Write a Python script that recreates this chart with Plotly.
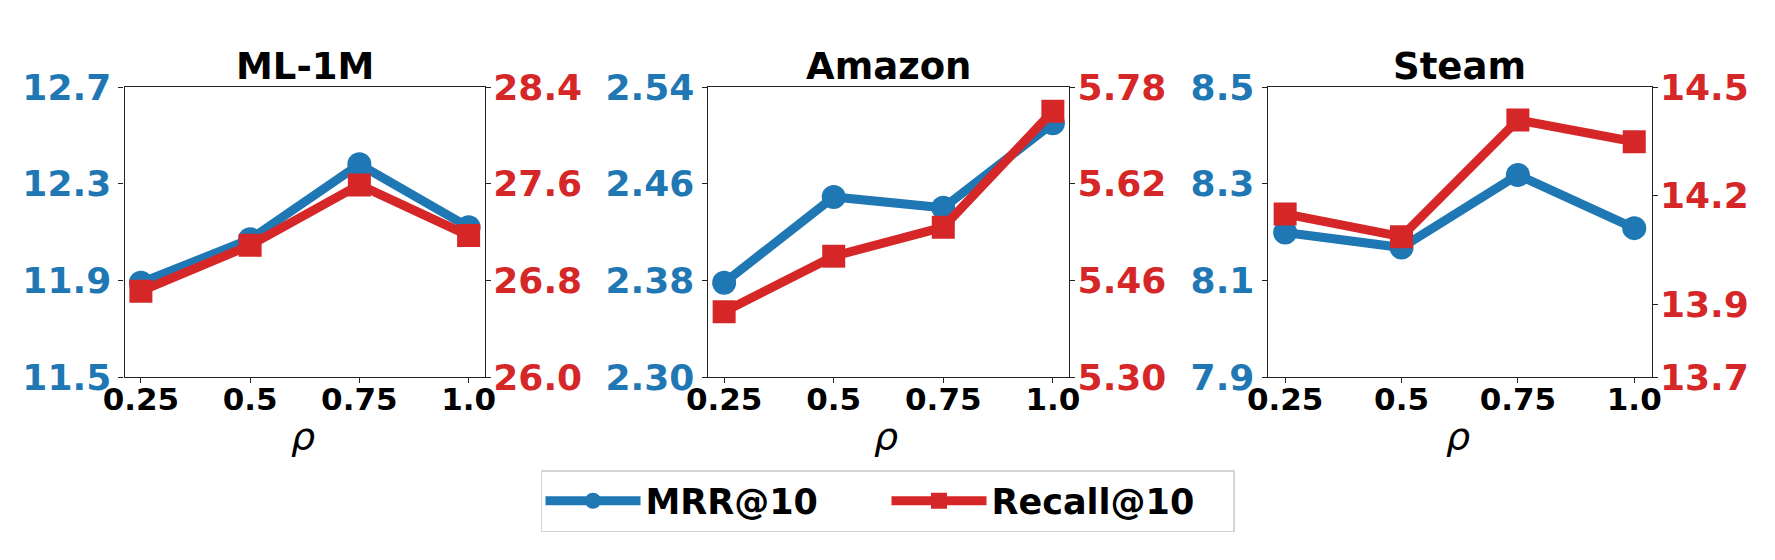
import plotly.graph_objects as go

W, H = 1775, 560

rho = [0.25, 0.5, 0.75, 1.0]
rho_labels = ["0.25", "0.5", "0.75", "1.0"]

datasets = ["ML-1M", "Amazon", "Steam"]

mrr_ml1m = [11.89, 12.07, 12.38, 12.12]
recall_ml1m = [26.71, 27.09, 27.59, 27.17]

mrr_amazon = [2.378, 2.449, 2.440, 2.510]
recall_amazon = [5.408, 5.500, 5.548, 5.740]

mrr_steam = [8.199, 8.168, 8.318, 8.208]
recall_steam = [14.150, 14.087, 14.409, 14.349]

mrr_ticks_ml1m = [11.5, 11.9, 12.3, 12.7]
mrr_ticktext_ml1m = ["11.5", "11.9", "12.3", "12.7"]
recall_ticks_ml1m = [26.0, 26.8, 27.6, 28.4]
recall_ticktext_ml1m = ["26.0", "26.8", "27.6", "28.4"]

mrr_ticks_amazon = [2.30, 2.38, 2.46, 2.54]
mrr_ticktext_amazon = ["2.30", "2.38", "2.46", "2.54"]
recall_ticks_amazon = [5.30, 5.46, 5.62, 5.78]
recall_ticktext_amazon = ["5.30", "5.46", "5.62", "5.78"]

mrr_ticks_steam = [7.9, 8.1, 8.3, 8.5]
mrr_ticktext_steam = ["7.9", "8.1", "8.3", "8.5"]
recall_ticks_steam = [13.7, 13.9, 14.2, 14.5]
recall_ticktext_steam = ["13.7", "13.9", "14.2", "14.5"]

BLUE = "#1f77b4"
RED = "#d62728"
FONT = "DejaVu Sans"

panels = [
    (mrr_ml1m, recall_ml1m, mrr_ticks_ml1m, mrr_ticktext_ml1m, recall_ticks_ml1m, recall_ticktext_ml1m),
    (mrr_amazon, recall_amazon, mrr_ticks_amazon, mrr_ticktext_amazon, recall_ticks_amazon, recall_ticktext_amazon),
    (mrr_steam, recall_steam, mrr_ticks_steam, mrr_ticktext_steam, recall_ticks_steam, recall_ticktext_steam),
]

# pixel layout of the axes boxes
x_px = [(124.5, 485.0), (707.7, 1069.3), (1267.7, 1651.7)]
y_top, y_bot = 87.0, 377.0

fig = go.Figure()
layout = dict(
    width=W, height=H,
    margin=dict(l=0, r=0, t=0, b=0, pad=0, autoexpand=False),
    paper_bgcolor="white", plot_bgcolor="white",
    font=dict(family=FONT, color="black"),
    showlegend=True,
    legend=dict(
        orientation="h", x=0.5, xanchor="center",
        y=1 - 470 / H, yanchor="top",
        font=dict(family=FONT, size=35, weight="bold", color="black"),
        bordercolor="#d4d4d4", borderwidth=1.5, bgcolor="white",
        itemsizing="trace", itemwidth=95,
        entrywidth=236, entrywidthmode="pixels",
    ),
    annotations=[],
)

xr = [rho[0] - 0.05 * (rho[-1] - rho[0]), rho[-1] + 0.05 * (rho[-1] - rho[0])]
ydom = [1 - y_bot / H, 1 - y_top / H]

for i, (mrr, rec, lt, ltt, rt, rtt) in enumerate(panels):
    xn = "" if i == 0 else str(i + 1)
    yl = str(2 * i + 1) if i > 0 else ""
    yr = str(2 * i + 2)
    xa = "x" + xn
    ya_l = "y" + yl
    ya_r = "y" + yr
    fig.add_trace(go.Scatter(
        x=rho, y=mrr, xaxis=xa, yaxis=ya_l, mode="lines+markers",
        name="MRR@10", legendgroup="mrr", showlegend=(i == 0),
        line=dict(color=BLUE, width=9),
        marker=dict(symbol="circle", size=24, color=BLUE),
    ))
    fig.add_trace(go.Scatter(
        x=rho, y=rec, xaxis=xa, yaxis=ya_r, mode="lines+markers",
        name="Recall@10", legendgroup="rec", showlegend=(i == 0),
        line=dict(color=RED, width=9),
        marker=dict(symbol="square", size=23, color=RED),
    ))
    x0, x1 = x_px[i]
    dom = [x0 / W, x1 / W]
    common = dict(
        showgrid=False, zeroline=False, automargin=False,
        showline=True, linecolor="#222", linewidth=1.2,
        ticks="outside", ticklen=5, tickcolor="#222", tickwidth=1.2,
    )
    layout["xaxis" + xn] = dict(
        domain=dom, range=xr, anchor=ya_l,
        tickvals=rho, ticktext=rho_labels, mirror=True,
        ticklabelstandoff=-10,
        tickfont=dict(family=FONT, size=31, weight="bold", color="black"),
        **common,
    )
    layout["yaxis" + yl] = dict(
        domain=ydom, range=[lt[0], lt[-1]], anchor=xa, side="left",
        tickvals=lt, ticktext=ltt,
        tickfont=dict(family=FONT, size=36, weight="bold", color=BLUE),
        **common,
    )
    layout["yaxis" + yr] = dict(
        range=[rt[0], rt[-1]], anchor=xa, overlaying=ya_l, side="right",
        tickvals=rt, ticktext=rtt, ticklabelstandoff=-5,
        tickfont=dict(family=FONT, size=36, weight="bold", color=RED),
        **common,
    )
    cx = (x0 + x1) / 2 / W
    layout["annotations"].append(dict(
        text="<b>" + datasets[i] + "</b>", x=cx, y=1 - 66 / H,
        xref="paper", yref="paper", xanchor="center", yanchor="middle",
        showarrow=False, font=dict(family=FONT, size=37, color="black"),
    ))
    layout["annotations"].append(dict(
        text="<i>ρ</i>", x=cx - 2 / W, y=1 - 436 / H,
        xref="paper", yref="paper", xanchor="center", yanchor="middle",
        showarrow=False, font=dict(family=FONT, size=38, color="black"),
    ))

fig.update_layout(**layout)
fig.write_html("out.html")
